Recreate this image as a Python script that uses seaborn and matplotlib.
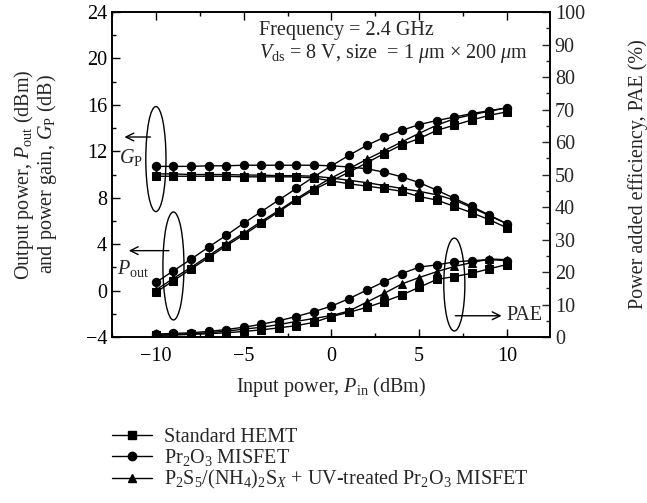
import numpy as np
import pandas as pd
import matplotlib
matplotlib.use("Agg")
import matplotlib.pyplot as plt
import seaborn as sns
from matplotlib.patches import Ellipse
from matplotlib.lines import Line2D
from matplotlib.ticker import MultipleLocator, FuncFormatter

# ---------------- data ----------------
pin = list(range(-10, 11))
series = ["Standard HEMT",
          "Pr$_2$O$_3$ MISFET",
          "P$_2$S$_5$/(NH$_4$)$_2$S$_X$ + UV-treated Pr$_2$O$_3$ MISFET"]
markers = ["s", "o", "^"]

pout_hemt = [-0.15, 0.85, 1.85, 2.85, 3.85, 4.8, 5.8, 6.8, 7.8, 8.7, 9.45,
             10.2, 11.0, 11.8, 12.55, 13.1, 13.8, 14.25, 14.7, 15.1, 15.4]
pout_pr = [0.7, 1.7, 2.7, 3.75, 4.75, 5.8, 6.8, 7.8, 8.8, 9.8, 10.75,
           11.65, 12.5, 13.2, 13.8, 14.3, 14.65, 14.95, 15.25, 15.5, 15.75]
pout_uv = [0.05, 1.05, 2.0, 3.0, 4.0, 4.95, 5.95, 6.9, 7.9, 8.85, 9.7,
           10.5, 11.3, 12.05, 12.8, 13.55, 14.25, 14.8, 15.15, 15.45, 15.75]

gp_hemt = [9.85, 9.85, 9.85, 9.85, 9.85, 9.8, 9.8, 9.8, 9.8, 9.7, 9.45,
           9.2, 9.0, 8.8, 8.55, 8.1, 7.8, 7.25, 6.7, 6.1, 5.4]
gp_pr = [10.7, 10.7, 10.7, 10.75, 10.75, 10.8, 10.8, 10.8, 10.8, 10.8, 10.75,
         10.65, 10.5, 10.2, 9.8, 9.3, 8.65, 7.95, 7.25, 6.5, 5.75]
gp_uv = [10.05, 10.05, 10.0, 10.0, 10.0, 9.95, 9.95, 9.9, 9.9, 9.85, 9.7,
         9.5, 9.3, 9.05, 8.8, 8.55, 8.25, 7.8, 7.15, 6.45, 5.75]

pae_hemt = [0.5, 0.6, 0.8, 1.0, 1.3, 1.7, 2.2, 2.8, 3.5, 4.5, 6.3,
            7.6, 9.1, 10.9, 12.9, 15.3, 17.7, 18.6, 19.6, 21.0, 22.3]
pae_pr = [0.9, 1.1, 1.3, 1.7, 2.3, 3.0, 3.9, 5.0, 6.3, 7.8, 9.5,
          11.8, 14.4, 17.0, 19.5, 21.5, 22.2, 23.1, 23.5, 23.8, 23.5]
pae_uv = [0.6, 0.8, 1.0, 1.3, 1.8, 2.4, 3.0, 3.8, 4.8, 5.7, 6.6,
          8.0, 10.7, 13.4, 16.3, 18.3, 20.1, 21.7, 22.9, 24.0, 23.8]

pout = [pout_hemt, pout_pr, pout_uv]
gp = [gp_hemt, gp_pr, gp_uv]
pae = [pae_hemt, pae_pr, pae_uv]

# ---------------- style ----------------
sns.set_style("ticks")
plt.rcParams["font.family"] = ["Liberation Serif", "DejaVu Serif"]
plt.rcParams["mathtext.fontset"] = "custom"
plt.rcParams["mathtext.rm"] = "Liberation Serif"
plt.rcParams["mathtext.it"] = "Liberation Serif:italic"
plt.rcParams["mathtext.bf"] = "Liberation Serif:bold"
FS = 14.5

fig = plt.figure(figsize=(6.47, 5.03), dpi=100)
ax = fig.add_axes([112 / 647, 1 - 337 / 503, (550 - 112) / 647, (337 - 12) / 503])
ax2 = ax.twinx()

line_kw = dict(color="black", linewidth=1.0, markersize=6,
               markeredgecolor="black", markerfacecolor="black", legend=False)

for i in range(3):
    df = pd.DataFrame({"pin": pin, "pout": pout[i], "gp": gp[i], "pae": pae[i]})
    sns.lineplot(data=df, x="pin", y="pout", marker=markers[i], ax=ax, **line_kw)
    sns.lineplot(data=df, x="pin", y="gp", marker=markers[i], ax=ax, **line_kw)
    sns.lineplot(data=df, x="pin", y="pae", marker=markers[i], ax=ax2, **line_kw)

ax.set_xlim(-12.5, 12.45)
ax.set_ylim(-4, 24)
ax2.set_ylim(0, 100)

ax.xaxis.set_major_locator(MultipleLocator(5))
ax.xaxis.set_minor_locator(MultipleLocator(2.5))
ax.yaxis.set_major_locator(MultipleLocator(4))
ax.yaxis.set_minor_locator(MultipleLocator(2))
ax2.yaxis.set_major_locator(MultipleLocator(10))
ax2.yaxis.set_minor_locator(MultipleLocator(5))

ax.tick_params(axis="both", which="both", direction="in", top=True, labelsize=FS,
               width=1.0, colors="black")
ax.tick_params(axis="y", which="both", right=False)
ax.tick_params(axis="x", which="major", pad=7)
ax.tick_params(which="major", length=6)
ax.tick_params(which="minor", length=3)
ax2.tick_params(axis="y", which="both", direction="in", labelsize=FS, width=1.0)
ax2.tick_params(which="major", length=6)
ax2.tick_params(which="minor", length=3)

fmt = FuncFormatter(lambda v, p: ("\u2212%d" % abs(v)) if v < 0 else "%d" % v)
ax.xaxis.set_major_formatter(fmt)
ax.yaxis.set_major_formatter(fmt)

for a in (ax, ax2):
    for s in a.spines.values():
        s.set_linewidth(1.2)
        s.set_color("black")

ax.set_xlabel("Input power, $P_{\\mathrm{in}}$ (dBm)", fontsize=FS)
ax.xaxis.set_label_coords(0.5, -0.118)
ax.set_ylabel("Output power, $P_{\\mathrm{out}}$ (dBm)\nand power gain, $G_{\\mathrm{P}}$ (dB)",
              fontsize=FS, linespacing=0.92)
ax.yaxis.set_label_coords(-0.122, 0.5)
ax2.set_ylabel("Power added efficiency, PAE (%)", fontsize=FS)
ax2.yaxis.set_label_coords(1.178, 0.5)

# annotations
ax.text(-4.15, 22.0, "Frequency = 2.4 GHz", fontsize=FS, va="baseline")
ax.text(-4.15, 20.05, "$V_{\\mathrm{ds}}$ = 8 V, size  = 1 $\\mu$m \u00d7 200 $\\mu$m",
        fontsize=FS, va="baseline")

ax.add_patch(Ellipse((-10, 11.33), 1.15, 9.05, fill=False, lw=1.0, ec="black"))
ax.add_patch(Ellipse((-9, 2.12), 1.2, 9.3, fill=False, lw=1.0, ec="black"))
ax.add_patch(Ellipse((7, 0.52), 1.2, 8.0, fill=False, lw=1.0, ec="black"))

arrow = dict(arrowstyle="->", lw=1.0, color="black", mutation_scale=14)
ax.annotate("", xy=(-11.95, 13.23), xytext=(-10.15, 13.23), arrowprops=arrow)
ax.annotate("", xy=(-11.7, 3.44), xytext=(-9.1, 3.44), arrowprops=arrow)
ax.annotate("", xy=(9.85, -2.17), xytext=(6.9, -2.17), arrowprops=arrow)

ax.text(-12.1, 11.45, "$G_{\\mathrm{P}}$", fontsize=FS, va="center", ha="left")
ax.text(-12.2, 1.9, "$P_{\\mathrm{out}}$", fontsize=FS, va="center", ha="left")
ax.text(9.95, -2.17, "PAE", fontsize=FS, va="center", ha="left")

# legend
handles = [Line2D([], [], color="black", lw=1.0, marker=m, markersize=6) for m in markers]
fig.legend(handles, series, loc="upper left", bbox_to_anchor=(104 / 647, 1 - 420 / 503),
           frameon=False, fontsize=FS, handlelength=2.0, handletextpad=0.6,
           labelspacing=0.0, borderaxespad=0)

fig.savefig("out.png", dpi=100)
